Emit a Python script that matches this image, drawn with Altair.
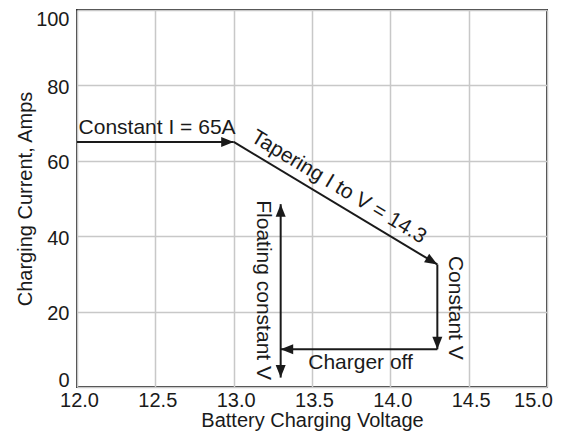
import altair as alt
import pandas as pd

# Arrow segments (voltage, current)
seg_x = [12.0, 13.0, 14.3, 14.3, 13.3]
seg_y = [65.0, 65.0, 32.5, 10.0, 2.5]
seg_x2 = [13.0, 14.3, 14.3, 13.3, 13.3]
seg_y2 = [65.0, 32.5, 10.0, 10.0, 48.5]

# Arrow heads (tip positions and pointing direction in degrees, 0 = up)
head_x = [13.0, 14.3, 14.3, 13.3, 13.3, 13.3]
head_y = [65.0, 32.5, 10.0, 10.0, 48.5, 2.5]
head_dir = [90, 121, 180, 270, 0, 180]

# Annotations
lab_text = ["Tapering I to V = 14.3", "Floating constant V", "Constant V", "Charger off"]
lab_x = [13.67, 13.19, 14.41, 13.81]
lab_y = [53.0, 25.7, 21.0, 6.4]
lab_angle = [31, 90, 90, 0]

left_text = ["Constant I = 65A"]
left_x = [12.01]
left_y = [68.7]

x_ticks = [12.0, 12.5, 13.0, 13.5, 14.0, 14.5, 15.0]
y_ticks = [0, 20, 40, 60, 80, 100]

FONT = "Liberation Sans"
INK = "#1a1a1a"
FS_AXIS = 20
FS_NOTE = 21

segs = pd.DataFrame({"x": seg_x, "y": seg_y, "x2": seg_x2, "y2": seg_y2})
heads = pd.DataFrame({"x": head_x, "y": head_y, "dir": head_dir})
labs = pd.DataFrame({"x": lab_x, "y": lab_y, "text": lab_text, "angle": lab_angle})
lefts = pd.DataFrame({"x": left_x, "y": left_y, "text": left_text})

xs = alt.Scale(domain=[12.0, 15.0], nice=False, zero=False)
ys = alt.Scale(domain=[0, 100], nice=False)

xax = alt.Axis(values=x_ticks, format=".1f", title="Battery Charging Voltage",
               labelPadding=3, titlePadding=0, labelOverlap=False, labelFlush=False,
               labelOffset={"expr": "datum.value == 15 ? -14 : 2"})
yax = alt.Axis(values=y_ticks, title="Charging Current, Amps",
               labelPadding=8, titlePadding=0, labelOverlap=False, labelFlush=False,
               labelOffset={"expr": "datum.value == 100 ? 9 : (datum.value == 0 ? -7 : 2)"})

rules = alt.Chart(segs).mark_rule(color=INK, strokeWidth=2).encode(
    x=alt.X("x:Q", scale=xs, axis=xax),
    y=alt.Y("y:Q", scale=ys, axis=yax),
    x2="x2:Q",
    y2="y2:Q",
)

arrow_path = "M0,0L-0.5,1.25L0.5,1.25Z"
heads_layer = alt.Chart(heads).mark_point(
    shape=arrow_path, filled=True, color=INK, opacity=1, size=400
).encode(
    x=alt.X("x:Q", scale=xs),
    y=alt.Y("y:Q", scale=ys),
    angle=alt.Angle("dir:Q", scale=None),
)

texts = alt.Chart(labs).mark_text(
    font=FONT, fontSize=FS_NOTE, color=INK, align="center", baseline="middle"
).encode(
    x=alt.X("x:Q", scale=xs),
    y=alt.Y("y:Q", scale=ys),
    text="text:N",
    angle=alt.Angle("angle:Q", scale=None),
)

left_texts = alt.Chart(lefts).mark_text(
    font=FONT, fontSize=FS_NOTE, color=INK, align="left", baseline="middle"
).encode(
    x=alt.X("x:Q", scale=xs),
    y=alt.Y("y:Q", scale=ys),
    text="text:N",
)

chart = alt.layer(rules, heads_layer, texts, left_texts).properties(
    width=470, height=377, autosize="none",
    padding={"left": 69, "top": 2, "right": 9, "bottom": 44},
).configure_view(
    stroke="#333333", strokeWidth=2
).configure_axis(
    labelFont=FONT, titleFont=FONT, labelFontSize=FS_AXIS, titleFontSize=FS_AXIS,
    labelColor=INK, titleColor=INK, titleFontWeight="normal",
    domain=False, ticks=False, grid=True, gridColor="#c8c8c8", gridWidth=1.5,
)

chart.save("out.html", embed_options={"renderer": "svg", "actions": False})
